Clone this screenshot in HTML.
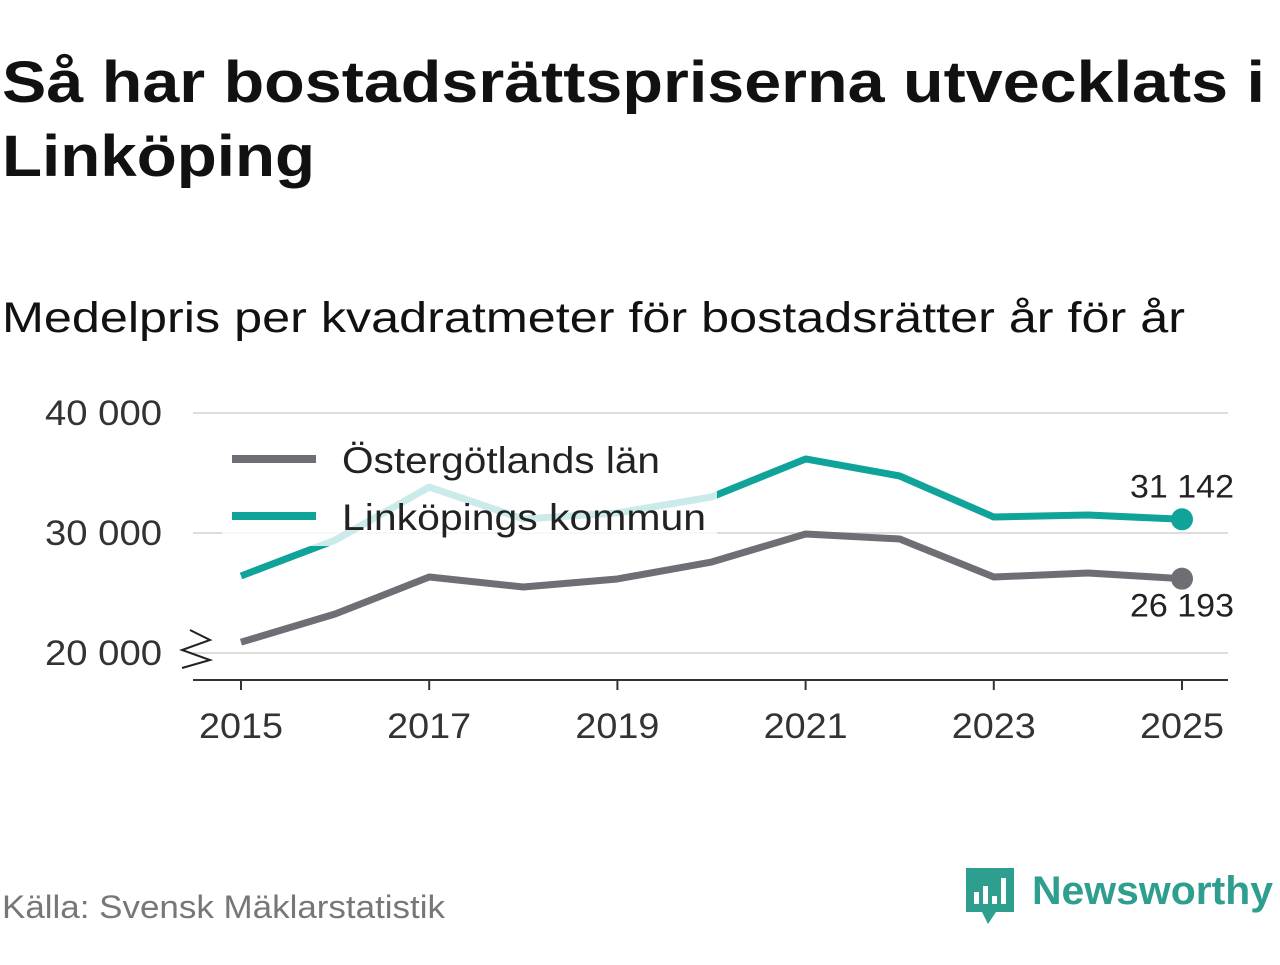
<!DOCTYPE html>
<html><head><meta charset="utf-8"><style>
body{margin:0;background:#fff;width:1280px;height:960px;overflow:hidden;font-family:"Liberation Sans",sans-serif}
</style></head><body>
<svg width="1280" height="960" viewBox="0 0 1280 960">
<text x="2" y="102" font-size="58" font-weight="bold" fill="#111" textLength="1263" lengthAdjust="spacingAndGlyphs">Så har bostadsrättspriserna utvecklats i</text>
<text x="2" y="176" font-size="58" font-weight="bold" fill="#111" textLength="313" lengthAdjust="spacingAndGlyphs">Linköping</text>
<text x="2" y="332" font-size="43" fill="#111" textLength="1183" lengthAdjust="spacingAndGlyphs">Medelpris per kvadratmeter för bostadsrätter år för år</text>
<g id="grid"></g>
<g id="lines"></g>
<rect x="222" y="428" width="495" height="118" fill="#fff" opacity="0.78"/>
<g>
<line x1="232" y1="459" x2="316" y2="459" stroke="#6f6e75" stroke-width="8"/>
<text x="342" y="473" font-size="37" fill="#222" textLength="318" lengthAdjust="spacingAndGlyphs">Östergötlands län</text>
<line x1="232" y1="516" x2="316" y2="516" stroke="#0fa39a" stroke-width="8"/>
<text x="342" y="530" font-size="37" fill="#222" textLength="364" lengthAdjust="spacingAndGlyphs">Linköpings kommun</text>
</g>
<g id="ends"></g>
<line x1="193" y1="680" x2="1228" y2="680" stroke="#333" stroke-width="2"/>
<path d="M190 630 L210 640 L182 650 L210 660 L182 668" fill="none" stroke="#222" stroke-width="2"/>
<text x="2" y="918" font-size="32" fill="#777" textLength="443" lengthAdjust="spacingAndGlyphs">Källa: Svensk Mäklarstatistik</text>
<g>
<path d="M966 868 h48 v44 h-18 l-8 12 l-6 -12 h-16 z" fill="#2e9e8f"/>
<rect x="974" y="892" width="5" height="12" fill="#fff"/><rect x="983" y="886" width="5" height="18" fill="#fff"/><rect x="992" y="896" width="5" height="8" fill="#fff"/><rect x="1001" y="878" width="5" height="26" fill="#fff"/>
<text x="1032" y="904" font-size="40" font-weight="bold" fill="#2e9e8f" textLength="241" lengthAdjust="spacingAndGlyphs">Newsworthy</text>
</g>
</svg>
<script>
const years=[2015,2016,2017,2018,2019,2020,2021,2022,2023,2024,2025];
const ostergotland=[20900,23250,26330,25500,26170,27580,29920,29500,26330,26670,26193];
const linkoping=[26420,29400,33830,31170,31670,33000,36170,34750,31330,31500,31142];
const yTicks=[20000,30000,40000];
const yTickLabels=["20 000","30 000","40 000"];
const xTicks=[2015,2017,2019,2021,2023,2025];
const ns="http://www.w3.org/2000/svg";
const x=v=>241+(v-2015)*(1182-241)/10;
const y=v=>653-(v-20000)*0.012;
function mk(t,a,p){const e=document.createElementNS(ns,t);for(const k in a)e.setAttribute(k,a[k]);p.appendChild(e);return e;}
const grid=document.getElementById('grid');
yTicks.forEach((t,i)=>{
 const l=mk('line',{x1:193,x2:1228,y1:y(t),y2:y(t),stroke:'#ddd','stroke-width':2},grid);
 
 
 const tx=mk('text',{x:162,y:y(t)+12,'font-size':35,fill:'#333','text-anchor':'end',textLength:117,lengthAdjust:'spacingAndGlyphs'},grid);
 tx.textContent=yTickLabels[i];
 
 
});
xTicks.forEach(t=>{
 const l=mk('line',{x1:x(t),x2:x(t),y1:680,y2:690,stroke:'#333','stroke-width':2},grid);
 
 
 const tx=mk('text',{x:x(t),y:738,'font-size':35,fill:'#333','text-anchor':'middle',textLength:84,lengthAdjust:'spacingAndGlyphs'},grid);
 tx.textContent=t;
 
 
});
const lines=document.getElementById('lines'),ends=document.getElementById('ends');
[[ostergotland,'#6f6e75','ostergotland',26],[linkoping,'#0fa39a','linkoping',-22]].forEach(([d,c,n,off])=>{
 const p=mk('polyline',{points:d.map((v,i)=>x(years[i])+','+y(v)).join(' '),fill:'none',stroke:c,'stroke-width':7,'stroke-linejoin':'round'},lines);
 
 
 const last=d.length-1;
 const dot=mk('circle',{cx:x(years[last]),cy:y(d[last]),r:11,fill:c},ends);
 
 
 const lb=mk('text',{x:x(years[last]),y:y(d[last])+off+(off>0?12:0),'font-size':32,fill:'#222','text-anchor':'middle',textLength:104,lengthAdjust:'spacingAndGlyphs'},ends);
 lb.textContent=String(d[last]).replace(/\B(?=(\d{3})+$)/g,' ');
 
 
});
</script>
</body></html>
